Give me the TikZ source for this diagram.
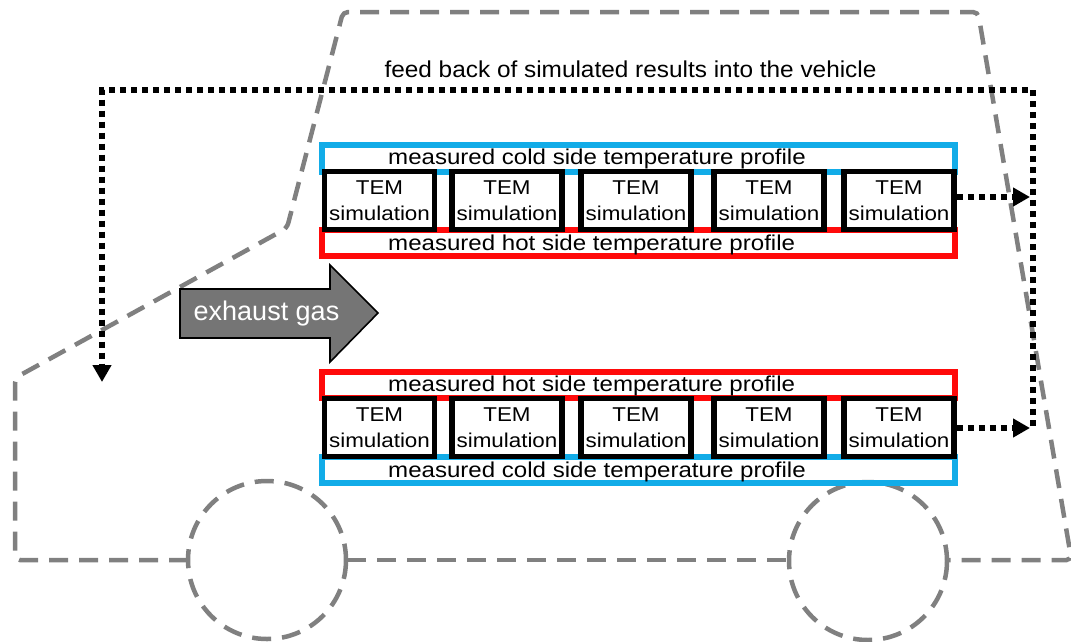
\documentclass[tikz,border=0pt]{standalone}
\usepackage{fontspec}
\setmainfont{Liberation Sans}
\newfontfamily\widesans[FakeStretch=1.12]{Liberation Sans}
\newfontfamily\feedsans[FakeStretch=1.06]{Liberation Sans}
\usetikzlibrary{arrows.meta}
\definecolor{coldblue}{HTML}{12ACE8}
\definecolor{hotred}{HTML}{FF0A0A}
\definecolor{outline}{HTML}{808080}
\definecolor{gasgray}{HTML}{757575}
\begin{document}
\begin{tikzpicture}[x=1pt,y=-1pt,
  body/.style={draw=outline,line width=4.5pt,dash pattern=on 19pt off 11pt},
  coldside/.style={draw=coldblue,line width=6pt},
  hotside/.style={draw=hotred,line width=6pt},
  sim/.style={draw=black,fill=white,line width=5.5pt,minimum width=110pt,minimum height=58pt,
    inner sep=0pt,align=center,font=\widesans\fontsize{20}{26}\selectfont},
  lbl/.style={font=\widesans\fontsize{21.5}{26}\selectfont,inner sep=0pt,anchor=base west},
  feed/.style={draw=black,line width=6pt,dash pattern=on 6pt off 5pt},
  feedtip/.style={-{Triangle[length=17pt,width=18pt]}}]
\useasboundingbox (0,0) rectangle (1071,641);

% vehicle outline and wheels
\draw[body,rounded corners=5pt] (188,560) -- (15,560) -- (15,378) -- (287,228) -- (343,12)
  -- (978,12) -- (1071.5,560) -- (946,560);
\draw[body] (347,560) -- (789,560);
\draw[body] (267,560) circle (79);
\draw[body] (868,561) circle (79);

% measured temperature profiles
\draw[coldside] (322,144.5) rectangle (954.5,171.5);
\draw[hotside] (322,229.5) rectangle (954.5,256);
\draw[hotside] (322,371.5) rectangle (954.5,398);
\draw[coldside] (322,456.5) rectangle (954.5,483);
\node[lbl] (coldU) at (388,164) {measured cold side temperature profile};
\node[lbl] (hotU) at (388,250) {measured hot side temperature profile};
\node[lbl] (hotL) at (388,391) {measured hot side temperature profile};
\node[lbl] (coldL) at (388,477) {measured cold side temperature profile};

% simulation blocks
\foreach \i/\x in {1/379.5,2/507,3/636,4/769,5/899}{
  \node[sim] (u\i) at (\x,200.5) {TEM\\simulation};
  \node[sim] (l\i) at (\x,427.5) {TEM\\simulation};
}

% exhaust gas arrow
\draw[fill=gasgray,draw=black,line width=1.6pt,line join=miter]
  (180,289) -- (330,289) -- (330,265) -- (378,313) -- (330,362) -- (330,338) -- (180,338) -- cycle;
\node[text=white,font=\fontsize{27}{30}\selectfont,inner sep=0pt] (gas) at (266.5,314) {exhaust gas};

% feedback loop
\coordinate (busU) at (1030,197);
\coordinate (busL) at (1030,428);
\coordinate (cornerR) at (1032.5,90);
\coordinate (cornerL) at (102,90);
\coordinate (target) at (102,382);
\draw[feed,feedtip] (u5.east |- busU) -- (busU);
\draw[feed,feedtip] (l5.east |- busL) -- (busL);
\draw[feed,feedtip] (1032.5,426) -- (cornerR) -- (cornerL) -- (target);
\node[font=\feedsans\fontsize{23}{27}\selectfont,inner sep=0pt,anchor=base] (fb) at (630.5,77) {feed back of simulated results into the vehicle};
\end{tikzpicture}
\end{document}
